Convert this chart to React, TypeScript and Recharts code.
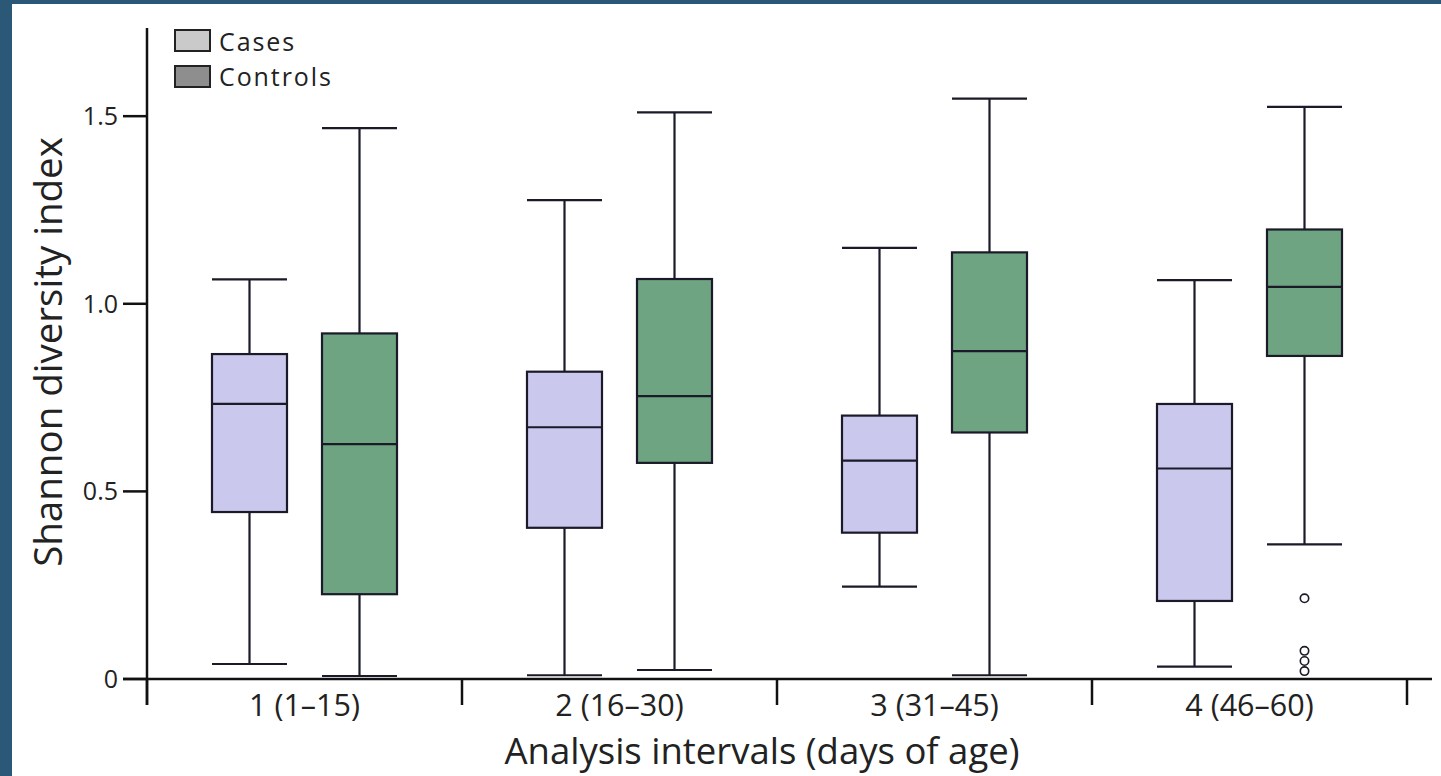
import React from 'react';
import { ComposedChart, Bar, XAxis, YAxis, ReferenceLine, Legend } from 'recharts';

// ---- Data ----
const categories = ['1 (1–15)', '2 (16–30)', '3 (31–45)', '4 (46–60)'];

const casesMin = [0.04, 0.01, 0.246, 0.033];
const casesQ1 = [0.445, 0.403, 0.39, 0.208];
const casesMedian = [0.733, 0.671, 0.582, 0.561];
const casesQ3 = [0.866, 0.819, 0.702, 0.733];
const casesMax = [1.065, 1.276, 1.149, 1.063];

const controlsMin = [0.008, 0.024, 0.01, 0.359];
const controlsQ1 = [0.226, 0.576, 0.657, 0.861];
const controlsMedian = [0.626, 0.754, 0.874, 1.045];
const controlsQ3 = [0.921, 1.066, 1.137, 1.198];
const controlsMax = [1.468, 1.51, 1.547, 1.525];
const controlsOutliers: number[][] = [[], [], [], [0.215, 0.075, 0.048, 0.021]];
const casesOutliers: number[][] = [[], [], [], []];

const yTicks = [0, 0.5, 1.0, 1.5];
const seriesNames = ['Cases', 'Controls'];

// ---- Styles ----
const FONT = '"Open Sans", "Noto Sans", sans-serif';
const INK = '#1a1a28';
const CASES_FILL = '#cbc8ee';
const CONTROLS_FILL = '#6fa482';
const LEGEND_FILLS = ['#cacaca', '#8e8e8e'];

const data = categories.map((name, i) => ({
  name,
  casesBox: [casesQ1[i], casesQ3[i]],
  controlsBox: [controlsQ1[i], controlsQ3[i]],
  casesStats: {
    min: casesMin[i], q1: casesQ1[i], median: casesMedian[i], q3: casesQ3[i], max: casesMax[i],
    outliers: casesOutliers[i],
  },
  controlsStats: {
    min: controlsMin[i], q1: controlsQ1[i], median: controlsMedian[i], q3: controlsQ3[i], max: controlsMax[i],
    outliers: controlsOutliers[i],
  },
}));

const BoxShape = (props: any) => {
  const { x, y, width, height, payload, statsKey, fill } = props;
  const s = payload && payload[statsKey];
  if (!s || !isFinite(x) || !isFinite(y) || !height) return null;
  const px = height / (s.q3 - s.q1);
  const toY = (v: number) => y + (s.q3 - v) * px;
  const cx = x + width / 2;
  const sw = 2.2;
  return (
    <g>
      {/* upper whisker */}
      <line x1={cx} x2={cx} y1={toY(s.max)} y2={toY(s.q3)} stroke={INK} strokeWidth={sw} />
      <line x1={x} x2={x + width} y1={toY(s.max)} y2={toY(s.max)} stroke={INK} strokeWidth={sw} />
      {/* lower whisker */}
      <line x1={cx} x2={cx} y1={toY(s.q1)} y2={toY(s.min)} stroke={INK} strokeWidth={sw} />
      <line x1={x} x2={x + width} y1={toY(s.min)} y2={toY(s.min)} stroke={INK} strokeWidth={sw} />
      {/* box */}
      <rect x={x} y={y} width={width} height={height} fill={fill} stroke={INK} strokeWidth={sw} />
      {/* median */}
      <line x1={x} x2={x + width} y1={toY(s.median)} y2={toY(s.median)} stroke={INK} strokeWidth={sw} />
      {/* outliers */}
      {s.outliers.map((o: number, k: number) => (
        <circle key={k} cx={cx} cy={toY(o)} r={4.2} fill="#ffffff" stroke={INK} strokeWidth={1.6} />
      ))}
    </g>
  );
};

const XTick = (props: any) => {
  const { x, y, payload, width, index } = props;
  const n = categories.length;
  const half = payload && typeof payload.offset === 'number' && payload.offset > 0 ? payload.offset : (width || 1260) / n / 2;
  return (
    <g>
      <line x1={x + half} x2={x + half} y1={y - 26} y2={y} stroke="#111" strokeWidth={2.5} />
      {index === 0 ? <line x1={x - half} x2={x - half} y1={y - 26} y2={y} stroke="#111" strokeWidth={2.5} /> : null}
      <text x={x} y={y + 11} textAnchor="middle" fontFamily={FONT} fontSize={30.5} fill="#222">
        {payload.value}
      </text>
    </g>
  );
};

const XAxisLine = (props: any) => {
  const { x1, x2, y1 } = props;
  if (!isFinite(x1) || !isFinite(y1)) return null;
  return <line x1={x1 - 24} x2={x2 + 25} y1={y1} y2={y1} stroke="#111" strokeWidth={2.5} />;
};

const LegendContent = () => (
  <div style={{ fontFamily: FONT, fontSize: 25, color: '#222', letterSpacing: '1.9px' }}>
    {seriesNames.map((nm, i) => (
      <div key={nm} style={{ display: 'flex', alignItems: 'center', height: 35.5 }}>
        <div
          style={{
            width: 33,
            height: 19,
            background: LEGEND_FILLS[i],
            border: '2px solid #222',
            marginRight: 8,
          }}
        />
        <span style={{ lineHeight: '30px' }}>{nm}</span>
      </div>
    ))}
  </div>
);

const YLabel = (props: any) => {
  const vb = props.viewBox || { x: 87, y: 28, width: 60, height: 677 };
  const cx = vb.x + vb.width - 100;
  const cy = 352;
  return (
    <text
      x={cx}
      y={cy}
      transform={`rotate(-90, ${cx}, ${cy})`}
      textAnchor="middle"
      dominantBaseline="central"
      fontFamily={FONT}
      fontSize={38.5}
      fill="#222"
    >
      Shannon diversity index
    </text>
  );
};

const XLabel = () => {
  return (
    <text x={762} y={764} textAnchor="middle" fontFamily={FONT} fontSize={36.5} fill="#222">
      Analysis intervals (days of age)
    </text>
  );
};

export default function App() {
  return (
    <div style={{ position: 'absolute', left: 0, top: 0, width: 1441, height: 776, background: '#ffffff', overflow: 'hidden' }}>
      <div style={{ position: 'absolute', left: 0, top: 0, width: 12, height: 776, background: '#2c5877' }} />
      <div style={{ position: 'absolute', left: 0, top: 0, width: 1441, height: 4, background: '#2c5877' }} />
      <div style={{ position: 'absolute', left: 0, top: 0 }}>
        <ComposedChart
          width={1441}
          height={776}
          data={data}
          margin={{ top: 28, right: 34, bottom: 41, left: 87 }}
          barSize={75}
          barGap={35}
        >
          <XAxis
            dataKey="name"
            axisLine={false}
            tickLine={false}
            tickSize={0}
            tickMargin={0}
            height={30}
            interval={0}
            tick={<XTick />}
            label={<XLabel />}
          />
          <YAxis
            type="number"
            domain={[-0.0693, 1.735]}
            allowDataOverflow
            ticks={yTicks}
            width={60}
            tickSize={24}
            tickMargin={5}
            axisLine={{ stroke: '#111', strokeWidth: 2.5 }}
            tickLine={{ stroke: '#111', strokeWidth: 2.5 }}
            tick={{ fontFamily: FONT, fontSize: 25, fill: '#222' }}
            tickFormatter={(v: number) => (v === 0 ? '0' : v.toFixed(1))}
            label={<YLabel />}
          />
          <ReferenceLine y={0} ifOverflow="visible" shape={<XAxisLine />} />
          <Bar
            dataKey="casesBox"
            name="Cases"
            fill={CASES_FILL}
            isAnimationActive={false}
            shape={(p: any) => <BoxShape {...p} statsKey="casesStats" fill={CASES_FILL} />}
          />
          <Bar
            dataKey="controlsBox"
            name="Controls"
            fill={CONTROLS_FILL}
            isAnimationActive={false}
            shape={(p: any) => <BoxShape {...p} statsKey="controlsStats" fill={CONTROLS_FILL} />}
          />
          <Legend
            layout="vertical"
            verticalAlign="middle"
            align="center"
            wrapperStyle={{ position: 'absolute', left: 174, top: 23, width: 'auto' }}
            content={<LegendContent />}
          />
        </ComposedChart>
      </div>
    </div>
  );
}
